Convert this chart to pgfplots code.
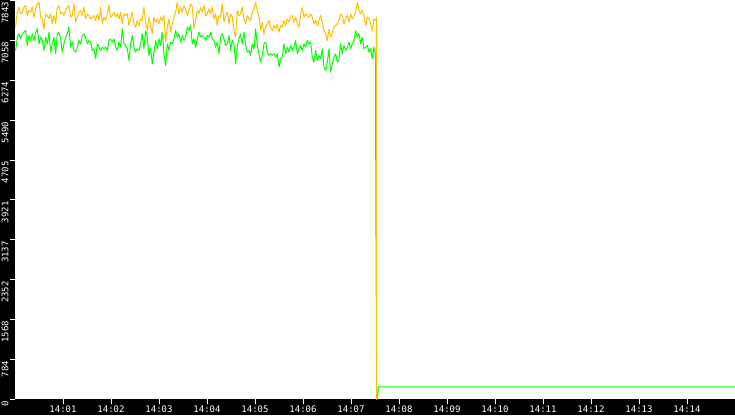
\documentclass[border=0pt]{standalone}
\usepackage{fontspec}
\setmonofont{DejaVu Sans Mono}
\usepackage{pgfplots}
\pgfplotsset{compat=1.18}
\usepackage{pgfplotstable}
\definecolor{ambr}{RGB}{255,192,0}
\definecolor{grn}{RGB}{0,255,0}

\pgfplotstableread{
t ya gr
0.8 7319 6860
2.9 7614 7122
5.0 7712 7188
7.0 7581 7089
9.1 7614 7188
11.2 7712 7220
13.3 7745 7253
15.4 7548 6958
17.5 7646 7155
19.5 7614 7057
21.6 7712 7188
23.7 7515 7057
25.8 7679 7220
27.9 7777 7286
30.0 7810 6991
32.0 7515 7122
34.1 7483 7057
36.2 7286 6860
38.3 7581 7122
40.4 7548 6991
42.5 7483 7220
44.5 7581 6827
46.6 7384 6991
48.7 7548 7122
50.8 7384 6795
52.9 7712 7188
55.0 7745 7220
57.0 7581 7089
59.1 7614 6827
61.2 7548 6991
63.3 7646 7122
65.4 7712 7188
67.5 7745 7319
69.5 7515 6926
71.6 7548 7024
73.7 7777 6860
75.8 7417 6827
77.9 7515 6926
80.0 7614 7057
82.0 7646 6991
84.1 7548 7155
86.2 7712 7188
88.3 7483 7122
90.4 7581 6991
92.5 7548 7057
94.5 7483 7024
96.6 7515 6860
98.7 7548 6893
100.8 7450 6696
102.9 7581 6991
105.0 7450 6926
107.0 7712 6860
109.1 7384 6926
111.2 7515 6893
113.3 7450 6926
115.4 7581 6860
117.5 7745 7057
119.5 7515 7089
121.6 7548 7024
123.7 7614 7089
125.8 7515 6926
127.9 7581 6860
130.0 7483 7024
132.0 7614 6926
134.1 7384 7286
136.2 7581 6991
138.3 7548 6958
140.4 7581 6893
142.5 7352 6664
144.5 7483 6991
146.6 7614 7155
148.7 7384 6926
150.8 7319 6827
152.9 7450 6893
155.0 7352 6860
157.0 7483 6991
159.1 7450 7188
161.2 7712 6893
163.3 7417 7253
165.4 7253 7122
167.5 7515 6762
169.5 7352 6893
171.6 7188 6598
173.7 7515 6827
175.8 7417 7057
177.9 7483 6893
180.0 7384 7089
182.0 7515 6958
184.1 7450 7220
186.2 7548 6795
188.3 7024 6565
190.4 7319 6991
192.5 7483 6860
194.5 7220 7024
196.6 7384 6991
198.7 7515 7089
200.8 7614 7253
202.9 7810 7122
205.0 7581 7188
207.0 7712 7024
209.1 7614 7155
211.2 7745 7057
213.3 7679 7122
215.4 7548 7319
217.5 7646 7253
219.5 7777 7352
221.6 7712 6991
223.7 7286 7089
225.8 7450 6926
227.9 7646 7089
230.0 7581 7220
232.0 7712 7122
234.1 7614 7155
236.2 7745 7122
238.3 7548 7057
240.4 7581 7155
242.5 7679 7122
244.5 7581 7220
246.6 7712 7089
248.7 7483 7057
250.8 7581 6926
252.9 7352 7024
255.0 7548 6795
257.0 7515 7122
259.1 7777 7188
261.2 7417 7089
263.3 7548 6958
265.4 7614 6991
267.5 7384 7155
269.5 7581 6860
271.6 7515 7057
273.7 7253 6991
275.8 7122 6598
277.9 7646 6958
280.0 7548 7089
282.0 7581 7188
284.1 7712 6991
286.2 7450 7220
288.3 7384 6958
290.4 7548 6827
292.5 7483 6860
294.5 7450 6762
296.6 7614 6991
298.7 7679 6893
300.8 7810 7286
302.9 7646 6958
305.0 7515 6795
307.0 7253 6631
309.1 7417 6762
311.2 7188 6991
313.3 7319 7024
315.4 7384 6827
317.5 7450 6762
319.5 7319 6795
321.6 7253 6762
323.7 7352 6795
325.8 7286 6729
327.9 7384 6795
330.0 7220 6532
332.0 7352 6696
334.1 7319 6729
336.2 7450 6991
338.3 7352 6795
340.4 7483 6926
342.5 7417 6827
344.5 7515 6958
346.6 7548 6860
348.7 7417 6926
350.8 7515 7057
352.9 7384 6795
355.0 7319 6893
357.0 7548 6958
359.1 7712 6860
361.2 7515 6991
363.3 7581 6926
365.4 7548 7057
367.5 7515 6991
369.5 7581 7024
371.6 7515 6729
373.7 7384 6631
375.8 7450 6860
377.9 7352 6664
380.0 7450 6762
382.0 7548 6696
384.1 7417 6893
386.2 7253 6532
388.3 7188 6467
390.4 7057 6631
392.5 7286 6893
394.5 7122 6434
396.6 7188 6598
398.7 7319 6729
400.8 7352 6795
402.9 7384 6631
405.0 7450 6696
407.0 7581 6991
409.1 7548 6795
411.2 7384 6958
413.3 7483 6860
415.4 7548 6926
417.5 7417 7024
419.5 7581 6893
421.6 7483 6991
423.7 7548 7057
425.8 7614 7253
427.9 7810 7122
430.0 7646 7188
432.0 7581 6991
434.1 7646 7122
436.2 7548 6893
438.3 7352 6926
440.4 7515 6958
442.5 7483 6827
444.5 7384 6893
446.6 7253 6696
448.7 7483 6926
450.8 7450 6762
}\main

\begin{document}
\begin{tikzpicture}[x=1pt,y=1pt]
\fill[black] (0,0) rectangle (735,415);
\begin{axis}[
  at={(15pt,16pt)}, anchor=south west,
  scale only axis, width=720pt, height=399pt,
  xmin=0, xmax=900, ymin=0, ymax=7843,
  axis background/.style={fill=white},
  axis line style={draw=none},
  tick align=outside, major tick length=5pt,
  tick style={white, line width=1pt},
  xtick pos=bottom, ytick pos=left,
  xtick={60,120,180,240,300,360,420,480,540,600,660,720,780,840},
  xticklabels={14:01,14:02,14:03,14:04,14:05,14:06,14:07,14:08,14:09,14:10,14:11,14:12,14:13,14:14},
  ytick={0,784.3,1568.6,2352.9,3137.2,3921.5,4705.8,5490.1,6274.4,7058.7,7843},
  yticklabels={0,784,1568,2352,3137,3921,4705,5490,6274,7058,7843},
  ticklabel style={font=\ttfamily\fontsize{9}{9}\selectfont, text=white},
  xticklabel style={anchor=north, inner sep=1pt},
  yticklabel style={rotate=90, anchor=south east, inner sep=1.2pt},
  clip=true,
]
\addplot[grn, line width=1pt, line join=round] table[x=t, y=gr] {\main};
\addplot[grn, line width=1pt] coordinates {(450.8,6762) (451.0,3735) (451.2,3381) (452.1,0) (454.0,132) (454.1,250) (900,250)};
\addplot[ambr, line width=1pt, line join=round] table[x=t, y=ya] {\main};
\addplot[ambr, line width=1pt] coordinates {(450.8,7450) (451.6,7480) (452.1,0)};
\end{axis}
\end{tikzpicture}
\end{document}
